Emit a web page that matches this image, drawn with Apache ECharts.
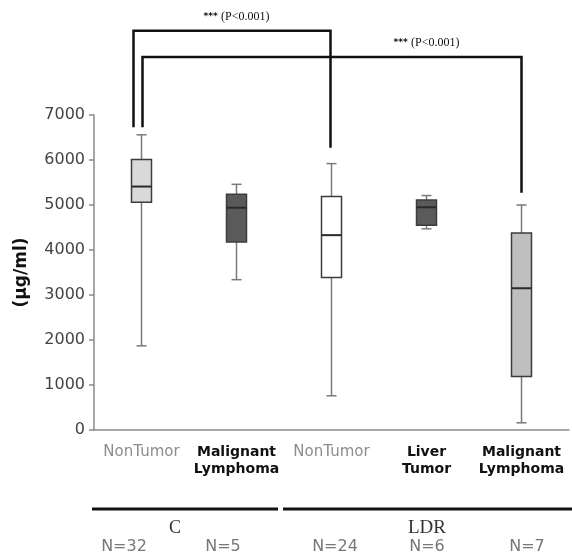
<!DOCTYPE html>
<html><head><meta charset="utf-8">
<script src="https://cdn.jsdelivr.net/npm/echarts@6/dist/echarts.min.js"></script>
<style>html,body{margin:0;padding:0;background:#fff}#c{width:572px;height:555px}</style>
</head><body><div id="c"></div>
<script>
// ---- data ----
const categories = ['NonTumor', 'Malignant Lymphoma', 'NonTumor', 'Liver Tumor', 'Malignant Lymphoma'];
const groupNames = ['C', 'LDR'];
const counts = ['N=32', 'N=5', 'N=24', 'N=6', 'N=7'];
const boxMin    = [1870, 3340,  760, 4470,  160];
const boxQ1     = [5060, 4180, 3390, 4550, 1190];
const boxMedian = [5410, 4940, 4330, 4950, 3150];
const boxQ3     = [6010, 5240, 5190, 5110, 4380];
const boxMax    = [6560, 5460, 5920, 5210, 5000];
const yTicks = [0, 1000, 2000, 3000, 4000, 5000, 6000, 7000];
// significance brackets
const bracketFrom = [0, 0];
const bracketTo = [2, 4];
const bracketTop = [8870, 8290];
const bracketFootFrom = [6730, 6730];
const bracketFootTo = [6270, 5270];
const bracketLabels = ['*** (P<0.001)', '*** (P<0.001)'];
const bracketLabelAt = [0.97, 2.75];

// ---- styles ----
const fills = ['#d9d9d9', '#5a5a5a', '#ffffff', '#5a5a5a', '#bfbfbf'];
const greyLabel = [true, false, true, false, false];

const chart = echarts.init(document.getElementById('c'), null, {renderer: 'canvas'});

const boxData = categories.map((c, i) => [i, boxMin[i], boxQ1[i], boxMedian[i], boxQ3[i], boxMax[i]]);
const bracketData = bracketFrom.map((f, i) => [f, bracketTo[i], bracketTop[i], bracketFootFrom[i], bracketFootTo[i], bracketLabelAt[i], i]);

const leftOffsets = [-8, 1];
const rightOffsets = [-1, 0];

const option = {
  animation: false,
  grid: {left: 94, right: 3, top: 115, bottom: 125, containLabel: false},
  xAxis: {
    type: 'category',
    data: categories,
    boundaryGap: true,
    axisLine: {lineStyle: {color: '#8a8a8a', width: 1.5}},
    axisTick: {alignWithLabel: true, length: 5, lineStyle: {color: '#8a8a8a', width: 1.5}},
    axisLabel: {
      margin: 14,
      interval: 0,
      formatter: function (v, i) {
        if (greyLabel[i]) return '{g|' + v + '}';
        return v.split(' ').map(w => '{b|' + w + '}').join('\n');
      },
      rich: {
        g: {fontFamily: 'DejaVu Sans', fontSize: 15, color: '#8c8c8c', lineHeight: 17},
        b: {fontFamily: 'DejaVu Sans', fontWeight: 'bold', fontSize: 14, color: '#111', lineHeight: 17}
      },
      verticalAlign: 'top'
    }
  },
  yAxis: {
    type: 'value',
    min: yTicks[0],
    max: yTicks[yTicks.length - 1],
    interval: yTicks[1] - yTicks[0],
    name: '(μg/ml)',
    nameLocation: 'middle',
    nameGap: 64,
    nameRotate: 90,
    nameTextStyle: {fontFamily: 'DejaVu Sans', fontWeight: 'bold', fontSize: 17, color: '#111'},
    axisLine: {show: true, lineStyle: {color: '#8a8a8a', width: 1.5}},
    axisTick: {show: true, length: 5, lineStyle: {color: '#8a8a8a', width: 1.5}},
    splitLine: {show: false},
    axisLabel: {margin: 9, fontFamily: 'DejaVu Sans', fontSize: 16, color: '#444',
      formatter: function (v) { return String(v); }}
  },
  series: [
    {
      type: 'custom',
      data: boxData,
      clip: false,
      renderItem: function (params, api) {
        const i = api.value(0);
        const pMin = api.coord([i, api.value(1)]);
        const pQ1 = api.coord([i, api.value(2)]);
        const pMed = api.coord([i, api.value(3)]);
        const pQ3 = api.coord([i, api.value(4)]);
        const pMax = api.coord([i, api.value(5)]);
        const x = pMin[0];
        const hw = 10, cw = 5;
        const wl = {stroke: '#7a7a7a', lineWidth: 1.5};
        return {
          type: 'group',
          children: [
            {type: 'line', shape: {x1: x, y1: pMax[1], x2: x, y2: pMin[1]}, style: wl},
            {type: 'line', shape: {x1: x - cw, y1: pMax[1], x2: x + cw, y2: pMax[1]}, style: wl},
            {type: 'line', shape: {x1: x - cw, y1: pMin[1], x2: x + cw, y2: pMin[1]}, style: wl},
            {type: 'rect', shape: {x: x - hw, y: pQ3[1], width: 2 * hw, height: pQ1[1] - pQ3[1]},
              style: {fill: fills[i], stroke: '#3c3c3c', lineWidth: 1.5}},
            {type: 'line', shape: {x1: x - hw, y1: pMed[1], x2: x + hw, y2: pMed[1]}, style: {stroke: '#2a2a2a', lineWidth: 2}}
          ]
        };
      }
    },
    {
      type: 'custom',
      data: bracketData,
      clip: false,
      renderItem: function (params, api) {
        const k = api.value(6);
        const a = api.coord([api.value(0), api.value(2)]);
        const b = api.coord([api.value(1), api.value(2)]);
        const fa = api.coord([api.value(0), api.value(3)]);
        const fb = api.coord([api.value(1), api.value(4)]);
        const lab = api.coord([api.value(5), api.value(2)]);
        const xa = a[0] + leftOffsets[k], xb = b[0] + rightOffsets[k];
        return {
          type: 'group',
          children: [
            {type: 'polyline', shape: {points: [[xa, fa[1]], [xa, a[1]], [xb, a[1]], [xb, fb[1]]]},
              style: {stroke: '#111', lineWidth: 2.5, fill: null}},
            {type: 'text', x: lab[0], y: a[1] - 14,
              style: {text: '{s|***} {p|' + bracketLabels[k].replace('*** ', '') + '}',
                align: 'center', verticalAlign: 'middle',
                rich: {s: {fontFamily: 'DejaVu Sans', fontWeight: 'bold', fontSize: 9, fill: '#111'},
                       p: {fontFamily: 'Liberation Serif', fontSize: 12, fill: '#111'}}}}
          ]
        };
      }
    }
  ],
  graphic: [
    {type: 'line', shape: {x1: 92, y1: 509, x2: 278, y2: 509}, style: {stroke: '#111', lineWidth: 3}},
    {type: 'line', shape: {x1: 283, y1: 509, x2: 572, y2: 509}, style: {stroke: '#111', lineWidth: 3}},
    {type: 'text', x: 175, y: 528, style: {text: groupNames[0], align: 'center', verticalAlign: 'middle', font: '18px "Liberation Serif"', fill: '#333'}},
    {type: 'text', x: 427, y: 528, style: {text: groupNames[1], align: 'center', verticalAlign: 'middle', font: '19px "Liberation Serif"', fill: '#333'}},
    {type: 'text', x: 124, y: 547, style: {text: counts[0], align: 'center', verticalAlign: 'middle', font: '16px "DejaVu Sans"', fill: '#777'}},
    {type: 'text', x: 223, y: 547, style: {text: counts[1], align: 'center', verticalAlign: 'middle', font: '16px "DejaVu Sans"', fill: '#777'}},
    {type: 'text', x: 335, y: 547, style: {text: counts[2], align: 'center', verticalAlign: 'middle', font: '16px "DejaVu Sans"', fill: '#777'}},
    {type: 'text', x: 427, y: 547, style: {text: counts[3], align: 'center', verticalAlign: 'middle', font: '16px "DejaVu Sans"', fill: '#777'}},
    {type: 'text', x: 527, y: 547, style: {text: counts[4], align: 'center', verticalAlign: 'middle', font: '16px "DejaVu Sans"', fill: '#777'}}
  ]
};
chart.setOption(option);
</script>
</body></html>
